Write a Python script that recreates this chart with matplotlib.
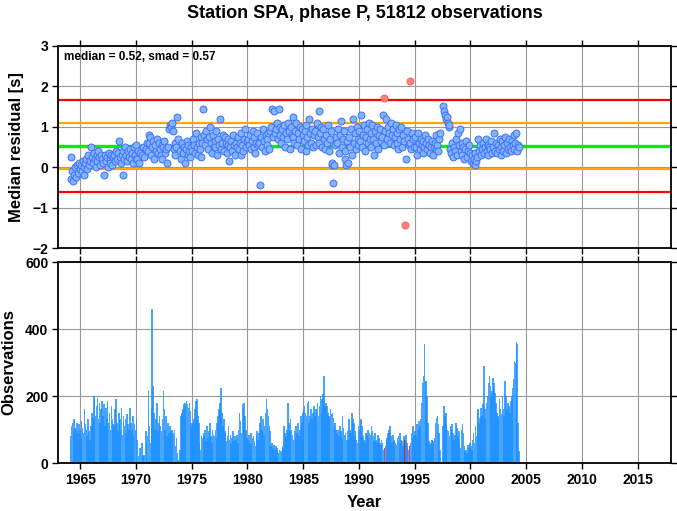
import matplotlib.pyplot as plt
import numpy as np

nan = np.nan
plt.rcParams['font.family'] = ['Liberation Sans', 'DejaVu Sans']
plt.rcParams['font.weight'] = 'bold'

# monthly median residuals [s], Jan of first year onwards
res_1960s = [nan, -0.3, 0.25, -0.1, -0.35, -0.2, 0.0, -0.25, 0.05, -0.15, 0.1, -0.05,
             0.05, -0.1, 0.15, 0.0, -0.2, 0.1, 0.2, -0.05, 0.3, 0.05, 0.15, 0.5,
             0.25, 0.1, 0.35, 0.2, 0.0, 0.3, 0.15, 0.4, 0.25, 0.05, 0.3, 0.2,
             0.1, -0.2, 0.3, 0.15, 0.25, 0.0, 0.35, 0.2, 0.1, 0.3, 0.05, 0.25,
             0.3, 0.15, 0.4, 0.2, 0.35, 0.65, 0.25, 0.1, 0.3, -0.2, 0.4, 0.2,
             0.5, 0.3, 0.15, 0.4, 0.25, 0.45, 0.2, 0.35, 0.1, 0.5, 0.3, 0.2]
res_1970s = [0.55, 0.2, 0.4, 0.1, 0.35, nan, 0.3, 0.5, 0.25, nan, 0.45, 0.6,
             0.4, 0.6, 0.8, 0.75, 0.3, 0.5, 0.65, 0.2, 0.55, 0.4, 0.7, 0.35,
             0.6, 0.45, 0.3, 0.55, 0.2, 0.5, 0.65, 0.35, 0.45, 0.1, 0.5, 0.95,
             1.05, 1.0, 1.1, 0.9, 0.45, 0.6, 0.3, 0.5, 1.25, 0.7, nan, 0.4,
             0.2, 0.6, 0.35, 0.5, 0.1, 0.45, 0.65, 0.3, 0.55, 0.4, 0.25, 0.5,
             0.4, 0.7, 0.55, 0.35, 0.85, 0.5, 0.3, 0.6, 0.45, 0.75, 0.25, 0.6,
             1.43, 0.8, 0.55, 0.9, 0.7, 0.45, 0.75, 1.0, 0.6, 0.35, 0.8, 0.5,
             0.65, 0.5, 0.9, 0.3, 0.7, 0.55, 1.2, 0.45, 0.6, 0.8, 0.4, 0.75,
             0.6, 0.35, 0.55, 0.7, 0.15, 0.5, 0.65, 0.4, 0.8, 0.55, 0.3, 0.6,
             0.5, 0.75, 0.45, 0.6, 0.3, 0.85, 0.55, 0.4, 0.7, 0.95, 0.5, 0.65]
res_1980s = [0.7, 0.55, 0.8, 0.45, 0.65, 0.9, 0.5, 0.75, 0.35, 0.6, 0.85, 0.55,
             0.6, -0.45, 0.75, 0.5, 0.95, 0.65, 0.4, 0.8, 0.7, 0.55, 0.85, 0.45,
             0.9, 1.0, 1.45, 0.75, 1.4, 0.85, 0.95, 1.1, 0.7, 1.45, 0.8, 1.0,
             0.6, 0.95, 0.75, 1.05, 0.5, 0.85, 0.7, 1.1, 0.9, 0.45, 1.0, 0.8,
             0.75, 1.25, 0.6, 0.9, 1.1, 0.55, 0.85, 0.7, 1.0, 0.45, 0.95, 0.8,
             0.65, 0.9, 0.4, 1.05, 0.75, 0.55, 1.2, 0.85, 0.6, 0.95, 0.5, 0.8,
             0.9, 0.55, 1.1, 0.75, 1.4, 0.6, 0.85, 1.0, 0.5, 0.95, 0.7, 0.45,
             0.8, 0.6, 1.05, 0.4, 0.7, 0.9, 0.05, 0.1, -0.38, 0.05, 0.55, 0.75,
             0.6, 0.95, 0.35, 0.8, 1.15, 0.5, 0.7, 0.9, 0.4, 0.2, 0.05, 0.65,
             0.1, 0.75, 0.5, 0.95, 0.3, 1.2, 0.6, 0.85, 0.45, 1.0, 0.7, 0.55]
res_1990s = [0.9, 0.65, 1.3, 0.5, 0.8, 1.05, 0.4, 0.75, 0.95, 0.6, 1.1, 0.7,
             0.5, 0.85, 1.05, 0.7, 0.3, 0.9, 0.6, 1.0, 0.45, 0.8, 0.95, 0.65,
             0.75, 1.3, 0.55, 1.72, 0.9, 1.2, 0.7, 1.0, 0.85, 0.6, 1.1, 0.8,
             0.95, 0.55, 0.75, 1.05, 0.6, 0.85, 0.45, 0.95, 0.7, 1.0, 0.5, 0.8,
             0.65, -1.44, 0.2, 0.9, 0.7, 0.55, 2.14, 0.6, 0.45, 0.85, 0.7, 0.5,
             0.75, 0.5, 0.3, 0.85, 0.6, 0.45, 0.7, 0.55, 0.35, 0.65, 0.5, 0.8,
             0.6, 0.45, 0.7, 0.55, 0.35, 0.5, 0.65, 0.3, 0.5, 0.6, 0.8, 0.45,
             0.55, 0.4, 0.7, 0.85, nan, nan, 1.52, 1.4, 1.3, 1.2, 1.25, 1.1,
             1.0, 1.05, 0.45, 0.35, 0.6, 0.25, 0.5, 0.4, 0.7, 0.3, 0.85, 0.55,
             0.95, 0.4, 0.6, 0.3, 0.5, 0.2, 0.45, 0.65, 0.25, 0.4, 0.55, 0.35]
res_2000s = [0.15, 0.3, 0.1, 0.2, 0.05, 0.35, 0.15, 0.25, 0.7, 0.4, 0.55, 0.3,
             0.45, 0.6, 0.35, 0.5, 0.7, 0.4, 0.55, 0.3, 0.5, 0.45, 0.65, 0.35,
             0.5, 0.85, 0.4, 0.6, 0.35, 0.55, 0.45, 0.7, 0.3, 0.5, 0.65, 0.4,
             0.55, 0.75, 0.35, 0.6, 0.45, 0.7, 0.5, 0.4, 0.65, 0.55, 0.8, 0.45,
             0.6, 0.85, 0.4, 0.55, 0.5]

# monthly observation counts
obs_1960s = [nan, 80, 110, 120, 95, 130, 105, 100, 120, 90, 115, 100,
             75, 125, 105, 90, 160, 115, 100, 80, 130, 95, 70, 110,
             150, 135, 200, 190, 140, 170, 195, 130, 180, 120, 160, 185,
             140, 175, 110, 165, 130, 185, 120, 150, 100, 170, 130, 115,
             110, 160, 190, 120, 95, 150, 130, 100, 165, 85, 140, 110,
             130, 90, 145, 115, 100, 165, 120, 95, 140, 80, 115, 100]
obs_1970s = [130, 70, 20, 5, 45, 0, 60, 20, 25, 0, 95, 60,
             80, 215, 110, 60, 160, 460, 230, 150, 100, 130, 180, 95,
             120, 140, 110, 95, 130, 215, 160, 100, 140, 80, 120, 90,
             110, 95, 100, 85, 90, 100, 50, 75, 30, 10, 0, 40,
             140, 150, 160, 175, 180, 170, 185, 175, 165, 180, 155, 120,
             110, 120, 130, 160, 185, 190, 140, 120, 60, 40, 80, 75,
             90, 80, 100, 65, 110, 75, 95, 120, 80, 60, 100, 85,
             80, 100, 75, 120, 140, 160, 180, 225, 150, 110, 130, 95,
             90, 65, 80, 110, 70, 85, 60, 75, 95, 65, 80, 70,
             85, 60, 100, 150, 125, 90, 175, 160, 180, 140, 100, 75]
obs_1980s = [70, 85, 60, 90, 55, 75, 80, 65, 50, 85, 95, 70,
             90, 120, 140, 100, 130, 85, 110, 150, 190, 160, 140, 110,
             95, 50, 60, 45, 55, 40, 50, 45, 35, 30, 40, 35,
             35, 50, 45, 110, 90, 80, 100, 180, 120, 95, 130, 100,
             85, 70, 95, 75, 110, 90, 120, 80, 100, 140, 120, 150,
             160, 170, 150, 140, 180, 185, 120, 140, 160, 130, 150, 170,
             140, 160, 150, 180, 140, 170, 200, 150, 190, 205, 260, 170,
             180, 170, 150, 140, 130, 160, 145, 150, 135, 110, 120, 100,
             90, 100, 80, 110, 95, 75, 140, 105, 85, 90, 70, 95,
             70, 130, 100, 90, 150, 130, 120, 80, 95, 70, 60, 110]
obs_1990s = [100, 125, 130, 110, 80, 70, 60, 90, 85, 100, 75, 90,
             85, 110, 95, 80, 65, 90, 70, 60, 85, 75, 60, 55,
             70, 60, 40, 45, 50, 70, 75, 90, 100, 110, 80, 60,
             85, 65, 70, 60, 55, 75, 80, 60, 90, 70, 65, 50,
             80, 70, 85, 60, 50, 40, 50, 60, 90, 75, 110, 85,
             95, 80, 115, 100, 125, 110, 130, 180, 240, 260, 355, 245,
             245, 200, 120, 65, 55, 60, 70, 65, 60, 75, 120, 135,
             140, 115, 90, 40, 0, 0, 110, 170, 140, 150, 120, 100,
             95, 80, 110, 100, 115, 90, 70, 85, 120, 105, 80, 95,
             60, 45, 100, 115, 90, 50, 35, 40, 30, 55, 45, 60]
obs_2000s = [50, 40, 70, 90, 60, 110, 80, 150, 160, 120, 135, 165,
             140, 175, 290, 160, 130, 180, 200, 240, 260, 230, 200, 215,
             255, 240, 210, 180, 150, 140, 130, 190, 160, 145, 200, 160,
             140, 245, 200, 160, 180, 170, 150, 185, 200, 225, 250, 305,
             300, 360, 355, 120, 35]

residuals = np.array(res_1960s + res_1970s + res_1980s + res_1990s + res_2000s)
counts = np.array(obs_1960s + obs_1970s + obs_1980s + obs_1990s + obs_2000s)
months = np.arange(len(residuals))
t = 1964 + (months + 0.5) / 12.0

median = 0.52
smad = 0.57

fig = plt.figure(figsize=(6.77, 5.11), dpi=100)
ax1 = fig.add_axes([58 / 677, 1 - 248 / 511, 613 / 677, 202 / 511])
ax2 = fig.add_axes([58 / 677, 1 - 463 / 511, 613 / 677, 201 / 511])

# outliers beyond 2 smad in red
out = np.abs(residuals - median) > 2 * smad
ax1.axhline(median + 2 * smad, color='#ff0000', lw=1.6, zorder=2)
ax1.axhline(median - 2 * smad, color='#ff0000', lw=1.6, zorder=2)
ax1.axhline(median + smad, color='#ffa500', lw=1.6, zorder=2)
ax1.axhline(median - smad, color='#ffa500', lw=1.6, zorder=2)
ax1.axhline(median, color='#00ee00', lw=2.4, zorder=2)
ax1.scatter(t[~out], residuals[~out], s=25, facecolor='#80b4ff', edgecolor='#3f6fff',
            linewidth=0.7, zorder=3)
ax1.scatter(t[out], residuals[out], s=25, facecolor='#ff8080', edgecolor='#ff6060',
            linewidth=0.7, zorder=3)
ax1.set_ylim(-2, 3)
ax1.set_yticks([-2, -1, 0, 1, 2, 3])
ax1.set_ylabel('Median residual [s]', fontsize=12, fontweight='bold', labelpad=6)
ax1.text(0.01, 0.975, 'median = %.2f, smad = %.2f' % (median, smad), transform=ax1.transAxes,
         fontsize=8.5, fontweight='bold', va='top', ha='left')
ax1.set_title('Station SPA, phase P, 51812 observations', fontsize=13, fontweight='bold',
              pad=20)

# wide semi-transparent bars, overlaps come out darker
bar_colors = np.where(out, '#ee1111', '#1e90ff')
ax2.bar(t, np.nan_to_num(counts), width=1.7 / 12.0, color=bar_colors, alpha=0.82,
        linewidth=0, zorder=2)
ax2.set_ylim(0, 600)
ax2.set_yticks([0, 200, 400, 600])
ax2.set_ylabel('Observations', fontsize=12, fontweight='bold', labelpad=6)
ax2.set_xlabel('Year', fontsize=12, fontweight='bold', labelpad=6)

for ax in (ax1, ax2):
    ax.set_xlim(1963, 2018)
    ax.set_xticks(np.arange(1965, 2016, 5))
    ax.grid(True, color='#999999', lw=0.8, zorder=0)
    ax.set_axisbelow(True)
    ax.tick_params(direction='out', length=4, width=1, top=True, right=True,
                   labelsize=10, pad=3)
    for sp in ax.spines.values():
        sp.set_linewidth(1.3)
ax1.tick_params(labelbottom=False)

plt.savefig('out.png', dpi=100)
